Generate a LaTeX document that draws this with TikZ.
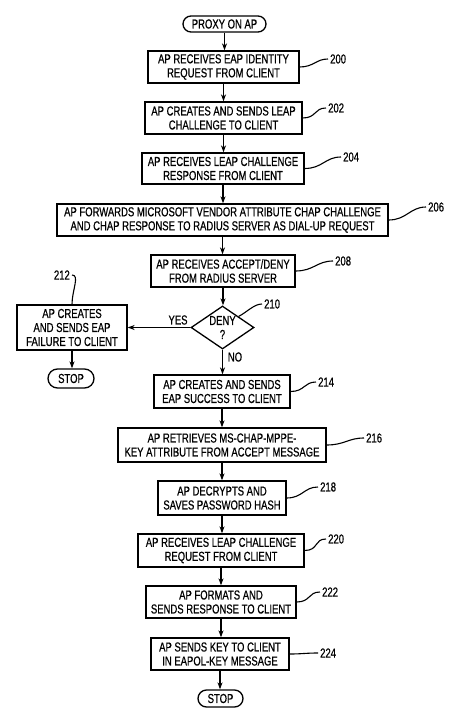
\documentclass[tikz,border=0pt]{standalone}
\usepackage{fontspec}
\setmainfont{Liberation Sans}[FakeStretch=0.73,FakeBold=0.6]
\usetikzlibrary{shapes.geometric,shapes.misc,arrows.meta}
\begin{document}
\begin{tikzpicture}[x=1pt,y=-1pt,
  font=\fontsize{13}{14}\selectfont,
  every node/.style={inner sep=0pt},
  box/.style={draw,line width=1.3pt,minimum height=32pt,align=center},
  term/.style={draw,line width=1.3pt,rounded rectangle,align=center},
  dec/.style={draw,line width=1.3pt,diamond,aspect=1.47,align=center},
  lab/.style={anchor=west,inner sep=2pt},
  arr/.style={-{Stealth[length=7pt,width=5pt]},line width=1.3pt},
  lbl/.style={line width=1.1pt}]
\useasboundingbox (0,0) rectangle (474,719);
% nodes
\node[term,minimum width=83pt,minimum height=16pt] (start) at (224.5,24) {PROXY ON AP};
\node[box,minimum width=151pt] (b200) at (223.5,67) {AP RECEIVES EAP IDENTITY\\REQUEST FROM CLIENT};
\node[box,minimum width=157pt] (b202) at (223.5,118) {AP CREATES AND SENDS LEAP\\CHALLENGE TO CLIENT};
\node[box,minimum width=162pt,minimum height=31pt] (b204) at (223,168.5) {AP RECEIVES LEAP CHALLENGE\\RESPONSE FROM CLIENT};
\node[box,minimum width=331pt] (b206) at (222.5,220) {AP FORWARDS MICROSOFT VENDOR ATTRIBUTE CHAP CHALLENGE\\AND CHAP RESPONSE TO RADIUS SERVER AS DIAL-UP REQUEST};
\node[box,minimum width=144pt] (b208) at (223,271) {AP RECEIVES ACCEPT/DENY\\FROM RADIUS SERVER};
\node[dec,minimum width=63pt,minimum height=43pt] (d210) at (222.5,327.5) {DENY\\?};
\node[box,minimum width=110pt,minimum height=45pt] (b212) at (72,327.5) {AP CREATES\\AND SENDS EAP\\FAILURE TO CLIENT};
\node[term,minimum width=46pt,minimum height=19pt] (stop1) at (71,378.5) {STOP};
\node[box,minimum width=136pt,minimum height=33pt] (b214) at (222,391.5) {AP CREATES AND SENDS\\EAP SUCCESS TO CLIENT};
\node[box,minimum width=208pt,minimum height=34pt] (b216) at (222,445) {AP RETRIEVES MS-CHAP-MPPE-\\KEY ATTRIBUTE FROM ACCEPT MESSAGE};
\node[box,minimum width=128pt,minimum height=34pt] (b218) at (222,498) {AP DECRYPTS AND\\SAVES PASSWORD HASH};
\node[box,minimum width=166pt,minimum height=33pt] (b220) at (221,550.5) {AP RECEIVES LEAP CHALLENGE\\REQUEST FROM CLIENT};
\node[box,minimum width=150pt] (b222) at (221,602) {AP FORMATS AND\\SENDS RESPONSE TO CLIENT};
\node[box,minimum width=138pt] (b224) at (220,654) {AP SENDS KEY TO CLIENT\\IN EAPOL-KEY MESSAGE};
\node[term,minimum width=45pt,minimum height=17pt] (stop2) at (220.5,698.5) {STOP};
% labels
\node[lab] (l200) at (328,59) {200};
\node[lab] (l202) at (326,108) {202};
\node[lab] (l204) at (341,157) {204};
\node[lab] (l206) at (426,207) {206};
\node[lab] (l208) at (333,261) {208};
\node[lab] (l210) at (262,304) {210};
\node[anchor=east,inner sep=2pt] (l212) at (72,275) {212};
\node[lab] (l214) at (316,382) {214};
\node[lab] (l216) at (364,438) {216};
\node[lab] (l218) at (318,487) {218};
\node[lab] (l220) at (326,539) {220};
\node[lab] (l222) at (320,592) {222};
\node[lab] (l224) at (318,653) {224};
\node (yes) at (178,320) {YES};
\node (no) at (235,357) {NO};
% flow arrows
\draw[arr] (start.south) -- (start.south |- b200.north);
\draw[arr] (b200.south) -- (b200.south |- b202.north);
\draw[arr] (b202.south) -- (b202.south |- b204.north);
\draw[arr] (b204.south) -- (b204.south |- b206.north);
\draw[arr] (b206.south) -- (b206.south |- b208.north);
\draw[arr] (b208.south) -- (b208.south |- d210.north);
\draw[arr] (d210.west) -- (b212.east);
\draw[arr] (b212.south) -- (b212.south |- stop1.north);
\draw[arr] (d210.south) -- (d210.south |- b214.north);
\draw[arr] (b214.south) -- (b214.south |- b216.north);
\draw[arr] (b216.south) -- (b216.south |- b218.north);
\draw[arr] (b218.south) -- (b218.south |- b220.north);
\draw[arr] (b220.south) -- (b220.south |- b222.north);
\draw[arr] (b222.south) -- (b222.south |- b224.north);
\draw[arr] (b224.south) -- (b224.south |- stop2.north);
% label connectors
\draw[lbl] (b200.east) .. controls +(14,0) and +(-12,0) .. (l200.west);
\draw[lbl] (b202.east) .. controls +(14,0) and +(-12,0) .. (l202.west);
\draw[lbl] (b204.east) .. controls +(18,0) and +(-16,0) .. (l204.west);
\draw[lbl] (b206.east) .. controls +(18,0) and +(-16,0) .. (l206.west);
\draw[lbl] (b208.east) .. controls +(18,0) and +(-16,0) .. (l208.west);
\draw[lbl] (d210.north east) .. controls +(8,-4) and +(-8,0) .. (l210.west);
\draw[lbl] (l212.east) .. controls +(8,0) and +(0,-14) .. (b212.north);
\draw[lbl] (b214.east) .. controls +(14,0) and +(-12,0) .. (l214.west);
\draw[lbl] (b216.east) .. controls +(18,0) and +(-16,0) .. (l216.west);
\draw[lbl] (b218.east) .. controls +(16,0) and +(-14,0) .. (l218.west);
\draw[lbl] (b220.east) .. controls +(14,0) and +(-12,0) .. (l220.west);
\draw[lbl] (b222.east) .. controls +(14,0) and +(-12,0) .. (l222.west);
\draw[lbl] (b224.east) .. controls +(12,0) and +(-12,0) .. (l224.west);
\end{tikzpicture}
\end{document}
